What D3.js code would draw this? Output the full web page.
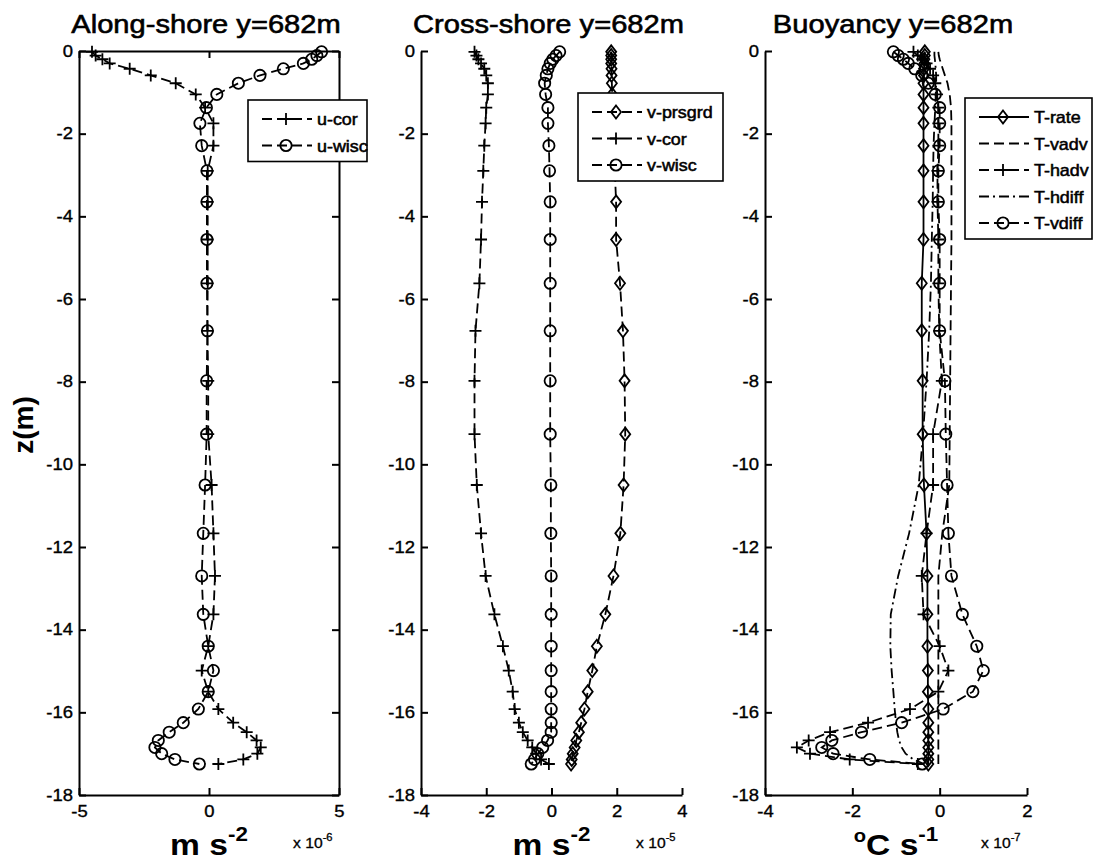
<!DOCTYPE html>
<html>
<head>
<meta charset="utf-8">
<script src="https://cdn.jsdelivr.net/npm/d3@7"></script>
<style>
  body { margin: 0; background: #fff; }
  svg { display: block; }
</style>
</head>
<body>
<script>
// Model levels (m), shared by all three profiles
const depth = [-0.02, -0.11, -0.20, -0.30, -0.43, -0.59, -0.78, -1.05, -1.37, -1.75,
  -2.29, -2.90, -3.65, -4.56, -5.62, -6.77, -7.98, -9.27, -10.50, -11.67,
  -12.70, -13.63, -14.40, -14.99, -15.50, -15.92, -16.25, -16.48, -16.68, -16.85,
  -17.00, -17.14, -17.25];

// Along-shore momentum terms (x 1e-6 m s^-2)
const uCor = [-4.50, -4.36, -4.10, -3.82, -3.05, -2.24, -1.28, -0.51, -0.15, 0.17,
  0.17, -0.05, -0.05, -0.05, -0.05, -0.06, -0.03, -0.03, 0.10, 0.17,
  0.23, 0.17, -0.03, -0.28, -0.03, 0.36, 0.93, 1.45, 1.83, 1.99,
  1.86, 1.32, 0.36];
const uVisc = [4.33, 4.15, 3.95, 3.63, 2.86, 1.96, 1.13, 0.30, -0.10, -0.35,
  -0.28, -0.08, -0.08, -0.08, -0.08, -0.06, -0.09, -0.09, -0.15, -0.22,
  -0.28, -0.22, -0.03, 0.17, -0.03, -0.41, -0.99, -1.53, -1.95, -2.08,
  -1.82, -1.31, -0.37];

// Cross-shore momentum terms (x 1e-5 m s^-2)
const vPrsgrd = [1.83, 1.83, 1.83, 1.83, 1.84, 1.84, 1.85, 1.86, 1.87, 1.89,
  1.91, 1.94, 1.98, 1.98, 2.10, 2.19, 2.24, 2.26, 2.21, 2.11,
  1.90, 1.65, 1.39, 1.25, 1.11, 1.01, 0.91, 0.84, 0.76, 0.71,
  0.65, 0.62, 0.60];
const vCor = [-2.36, -2.30, -2.24, -2.16, -2.06, -2.00, -1.95, -1.95, -2.00, -2.02,
  -2.06, -2.09, -2.13, -2.16, -2.21, -2.33, -2.36, -2.36, -2.29, -2.16,
  -2.02, -1.75, -1.49, -1.31, -1.19, -1.13, -1.00, -0.88, -0.73, -0.59,
  -0.47, -0.32, -0.08];
const vVisc = [0.25, 0.14, 0.04, -0.04, -0.11, -0.16, -0.21, -0.18, -0.11, -0.11,
  -0.08, -0.06, -0.04, -0.04, -0.04, -0.04, -0.04, -0.04, -0.02, -0.02,
  -0.01, -0.01, -0.01, -0.01, -0.01, -0.01, -0.01, -0.01, -0.12, -0.27,
  -0.42, -0.52, -0.62];

// Heat budget terms (x 1e-7 degC s^-1)
const tRate = [-0.34, -0.34, -0.35, -0.35, -0.36, -0.36, -0.37, -0.37, -0.37, -0.37,
  -0.37, -0.37, -0.37, -0.37, -0.41, -0.41, -0.39, -0.39, -0.36, -0.30,
  -0.28, -0.28, -0.28, -0.27, -0.27, -0.26, -0.26, -0.26, -0.26, -0.26,
  -0.26, -0.26, -0.26];
const tVadv = [-0.03, -0.02, 0.00, 0.03, 0.07, 0.12, 0.18, 0.23, 0.26, 0.27,
  0.27, 0.27, 0.27, 0.27, 0.26, 0.25, 0.24, 0.23, 0.22, 0.06,
  -0.03, -0.03, -0.03, -0.03, -0.03, -0.03, -0.03, -0.03, -0.03, -0.03,
  -0.03, -0.03, -0.03];
const tHadv = [-0.60, -0.50, -0.40, -0.30, -0.22, -0.15, -0.10, -0.06, -0.03, -0.03,
  -0.03, -0.05, -0.05, -0.03, -0.03, -0.01, 0.05, -0.15, -0.15, -0.30,
  -0.41, -0.37, 0.00, 0.20, -0.03, -0.68, -1.64, -2.51, -3.00, -3.27,
  -2.97, -2.06, -0.50];
const tHdiff = [-0.12, -0.12, -0.11, -0.10, -0.09, -0.08, -0.08, -0.09, -0.10, -0.12,
  -0.14, -0.15, -0.16, -0.18, -0.20, -0.24, -0.30, -0.38, -0.48, -0.70,
  -0.95, -1.12, -1.13, -1.10, -1.06, -1.03, -1.00, -0.97, -0.93, -0.87,
  -0.78, -0.60, -0.35];
const tVdiff = [-1.06, -0.95, -0.83, -0.72, -0.57, -0.41, -0.26, -0.10, 0.00, 0.00,
  0.00, -0.03, -0.03, 0.00, 0.00, 0.00, 0.12, 0.14, 0.17, 0.20,
  0.27, 0.52, 0.85, 1.00, 0.76, 0.08, -0.87, -1.79, -2.47, -2.70,
  -2.44, -1.60, -0.40];

// Axis ticks and labels
const zTicks = [0, -2, -4, -6, -8, -10, -12, -14, -16, -18];
const xTicksU = [-5, 0, 5];
const xTicksV = [-4, -2, 0, 2, 4];
const xTicksT = [-4, -2, 0, 2];
const titles = ["Along-shore y=682m", "Cross-shore y=682m", "Buoyancy y=682m"];
const uNames = ["u-cor", "u-wisc"];
const vNames = ["v-prsgrd", "v-cor", "v-wisc"];
const tNames = ["T-rate", "T-vadv", "T-hadv", "T-hdiff", "T-vdiff"];
const exponents = ["-6", "-5", "-7"];

const W = 1096, H = 865;
const FONT = "Arial, 'Liberation Sans', Helvetica, sans-serif";
const SX = 1.12;           // slight horizontal stretch of all lettering
const TOP = 51, BOTTOM = 795;
const DASH = "10,5", DASHDOT = "10,4,2,4";
const LW = 1.8;

const svg = d3.select("body").append("svg")
  .attr("width", W).attr("height", H)
  .style("font-family", FONT);
svg.append("rect").attr("width", W).attr("height", H).attr("fill", "#fff");

const y = d3.scaleLinear().domain([-18, 0]).range([BOTTOM, TOP]);

function label(parent, x, yy, anchor, size, weight, heavy) {
  return parent.append("text")
    .attr("transform", `translate(${x},${yy}) scale(${SX},1)`)
    .attr("text-anchor", anchor)
    .attr("font-size", size)
    .attr("font-weight", weight || "normal")
    .attr("fill", "#000")
    .attr("stroke", heavy ? "#000" : "none")
    .attr("stroke-width", heavy || 0);
}

function marker(g, type, cx, cy) {
  const s = g.append("path").attr("fill", "none").attr("stroke", "#000").attr("stroke-width", LW);
  if (type === "plus") s.attr("d", `M${cx - 6},${cy}H${cx + 6}M${cx},${cy - 6}V${cy + 6}`);
  else if (type === "circle") s.attr("d", d3.symbol(d3.symbolCircle, 100)()).attr("transform", `translate(${cx},${cy})`);
  else if (type === "diamond") s.attr("d", `M${cx},${cy - 6.5}L${cx + 5},${cy}L${cx},${cy + 6.5}L${cx - 5},${cy}Z`);
}

const panels = [
  { left: 79, right: 339, box: true, domain: [-5, 5], ticks: xTicksU, title: titles[0],
    series: [
      { v: uCor, name: uNames[0], dash: DASH, mark: "plus" },
      { v: uVisc, name: uNames[1], dash: DASH, mark: "circle" }
    ],
    legend: { x: 248, y: 100, w: 119 },
    unit: [["m s", 30, 0], ["-2", 20, -14]], exp: exponents[0] },
  { left: 421, right: 682, box: false, domain: [-4, 4], ticks: xTicksV, title: titles[1],
    series: [
      { v: vPrsgrd, name: vNames[0], dash: DASH, mark: "diamond" },
      { v: vCor, name: vNames[1], dash: DASH, mark: "plus" },
      { v: vVisc, name: vNames[2], dash: DASH, mark: "circle" }
    ],
    legend: { x: 578, y: 93, w: 145 },
    unit: [["m s", 30, 0], ["-2", 20, -14]], exp: exponents[1] },
  { left: 765, right: 1027, box: false, domain: [-4, 2], ticks: xTicksT, title: titles[2],
    series: [
      { v: tRate, name: tNames[0], dash: null, mark: "diamond" },
      { v: tVadv, name: tNames[1], dash: DASH, mark: null },
      { v: tHadv, name: tNames[2], dash: DASH, mark: "plus" },
      { v: tHdiff, name: tNames[3], dash: DASHDOT, mark: null },
      { v: tVdiff, name: tNames[4], dash: DASH, mark: "circle" }
    ],
    legend: { x: 965, y: 98, w: 127 },
    unit: [["o", 18, -13], ["C s", 30, 13], ["-1", 20, -14]], exp: exponents[2] }
];

function styleAxis(g) {
  g.selectAll("path, line").attr("stroke", "#000").attr("stroke-width", 2);
  g.selectAll("text").attr("font-size", 16.5).attr("fill", "#000").attr("font-family", FONT)
    .attr("stroke", "#000").attr("stroke-width", 0.35);
}

panels.forEach(p => {
  const x = d3.scaleLinear().domain(p.domain).range([p.left, p.right]);
  const g = svg.append("g");

  // profiles
  p.series.forEach(s => {
    const pts = depth.map((z, i) => ({ z, v: s.v[i] }));
    const line = d3.line().x(d => x(d.v)).y(d => y(d.z));
    g.append("path").datum(pts)
      .attr("d", line)
      .attr("fill", "none").attr("stroke", "#000").attr("stroke-width", LW)
      .attr("stroke-dasharray", s.dash);
    if (s.mark) pts.forEach(d => marker(g, s.mark, x(d.v), y(d.z)));
  });

  // axes (ticks point inward)
  const fmt = d => String(d);
  const ax = g.append("g").attr("transform", `translate(${p.left},0)`)
    .call(d3.axisLeft(y).tickValues(zTicks).tickSize(-7).tickSizeOuter(0).tickPadding(6).tickFormat(fmt));
  styleAxis(ax);
  ax.selectAll("text").attr("transform", `scale(${SX},1)`).attr("x", -6 / SX);

  const bx = g.append("g").attr("transform", `translate(0,${BOTTOM})`)
    .call(d3.axisBottom(x).tickValues(p.ticks).tickSize(-7).tickSizeOuter(0).tickPadding(10).tickFormat(fmt));
  styleAxis(bx);
  bx.selectAll("text").attr("transform", `scale(${SX},1)`).attr("dy", "0.71em");

  if (p.box) {
    const rx = g.append("g").attr("transform", `translate(${p.right},0)`)
      .call(d3.axisRight(y).tickValues(zTicks).tickSize(-7).tickSizeOuter(0).tickFormat(""));
    styleAxis(rx);
    const tx = g.append("g").attr("transform", `translate(0,${TOP})`)
      .call(d3.axisTop(x).tickValues(p.ticks).tickSize(-7).tickSizeOuter(0).tickFormat(""));
    styleAxis(tx);
  }

  // title
  label(g, (p.left + p.right) / 2 - 3, 33, "middle", 26, "normal", 0.6).text(p.title);

  // unit label under the axis
  const ut = label(g, (p.left + p.right) / 2, 855, "middle", 30, "bold");
  p.unit.forEach(([t, size, dy]) => ut.append("tspan").attr("font-size", size).attr("dy", dy).text(t));

  // multiplier
  const mt = label(g, p.right - 46, 848, "start", 14, "normal", 0.3);
  mt.append("tspan").text("x 10");
  mt.append("tspan").attr("font-size", 10).attr("dy", -7).text(p.exp);

  // legend
  const L = p.legend, n = p.series.length, step = 26.5;
  const lg = g.append("g");
  lg.append("rect").attr("x", L.x).attr("y", L.y).attr("width", L.w)
    .attr("height", 19 + (n - 1) * step + 16)
    .attr("fill", "#fff").attr("stroke", "#000").attr("stroke-width", 1.6);
  p.series.forEach((s, i) => {
    const ry = L.y + 19 + i * step;
    lg.append("line").attr("x1", L.x + 14).attr("x2", L.x + 64).attr("y1", ry).attr("y2", ry)
      .attr("stroke", "#000").attr("stroke-width", LW).attr("stroke-dasharray", s.dash);
    if (s.mark) marker(lg, s.mark, L.x + 38, ry);
    label(lg, L.x + 69, ry + 6, "start", 16, "normal", 0.5).text(s.name);
  });
});

// shared vertical axis label
svg.append("text")
  .attr("transform", "translate(33,425) rotate(-90)")
  .attr("text-anchor", "middle")
  .attr("font-size", 28).attr("font-weight", "bold")
  .attr("fill", "#000")
  .text("z(m)");
</script>
</body>
</html>
